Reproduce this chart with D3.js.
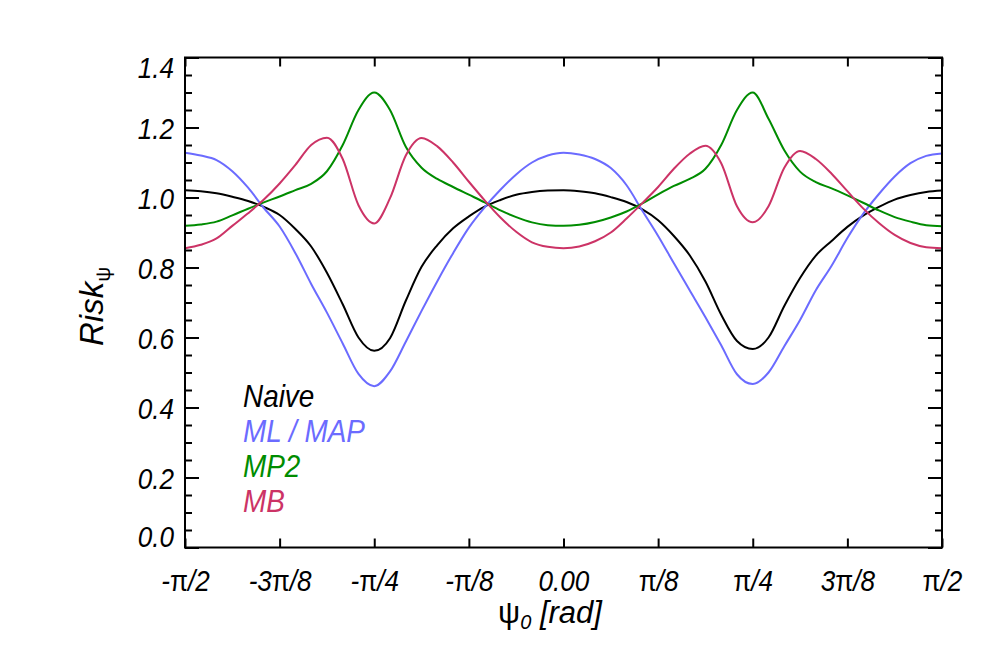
<!DOCTYPE html>
<html>
<head>
<meta charset="utf-8">
<script src="https://cdn.jsdelivr.net/npm/d3@7"></script>
<style>
  body { margin: 0; background: #fff; }
  text { font-family: "Liberation Sans", Helvetica, Arial, sans-serif; }
</style>
</head>
<body>
<div id="container"></div>
<script>
// sample grid for psi0, in steps of pi/48 from -pi/2 to pi/2
var psi0 = d3.range(49).map(function (i) { return -Math.PI / 2 + i * Math.PI / 48; });

var naive = [1.021, 1.018, 1.012, 1.002, 0.99, 0.973, 0.95, 0.91, 0.86, 0.785, 0.695, 0.6, 0.562,
  0.598, 0.705, 0.802, 0.864, 0.912, 0.946, 0.974, 0.993, 1.008, 1.016, 1.02, 1.021,
  1.018, 1.012, 1.001, 0.987, 0.966, 0.935, 0.89, 0.835, 0.76, 0.665, 0.59, 0.567,
  0.6, 0.69, 0.77, 0.834, 0.876, 0.916, 0.948, 0.973, 0.994, 1.007, 1.016, 1.02];

var mlmap = [1.128, 1.12, 1.107, 1.075, 1.028, 0.97, 0.917, 0.841, 0.753, 0.671, 0.583, 0.496, 0.461,
  0.503, 0.588, 0.676, 0.761, 0.841, 0.914, 0.972, 1.022, 1.066, 1.1, 1.12, 1.128,
  1.123, 1.11, 1.084, 1.035, 0.962, 0.89, 0.812, 0.735, 0.658, 0.578, 0.495, 0.467,
  0.5, 0.575, 0.65, 0.735, 0.805, 0.884, 0.953, 1.01, 1.06, 1.098, 1.119, 1.126];

var mp2 = [0.919, 0.923, 0.931, 0.949, 0.968, 0.986, 1.003, 1.021, 1.039, 1.075, 1.15, 1.25, 1.30,
  1.25, 1.145, 1.085, 1.053, 1.03, 1.008, 0.986, 0.963, 0.944, 0.929, 0.921, 0.919,
  0.922, 0.93, 0.943, 0.96, 0.983, 1.009, 1.033, 1.053, 1.082, 1.15, 1.25, 1.30,
  1.225, 1.135, 1.074, 1.044, 1.026, 1.006, 0.985, 0.963, 0.944, 0.931, 0.921, 0.918];

var mb = [0.855, 0.865, 0.883, 0.919, 0.955, 0.994, 1.04, 1.093, 1.15, 1.171, 1.11, 0.978, 0.926,
  0.998, 1.12, 1.17, 1.146, 1.10, 1.045, 0.992, 0.943, 0.902, 0.872, 0.859, 0.855,
  0.86, 0.875, 0.9, 0.94, 0.984, 1.03, 1.082, 1.125, 1.148, 1.098, 0.975, 0.929,
  0.975, 1.085, 1.133, 1.11, 1.068, 1.018, 0.969, 0.927, 0.893, 0.87, 0.858, 0.855];

var seriesNames = ["Naive", "ML / MAP", "MP2", "MB"];
var seriesColors = ["#000000", "#6b6bff", "#008c00", "#cc3366"];

var xTickValues = [-Math.PI / 2, -3 * Math.PI / 8, -Math.PI / 4, -Math.PI / 8, 0,
  Math.PI / 8, Math.PI / 4, 3 * Math.PI / 8, Math.PI / 2];
var xTickLabels = ["-π/2", "-3π/8", "-π/4", "-π/8", "0.00", "π/8", "π/4", "3π/8", "π/2"];
var yTickValues = [0, 0.2, 0.4, 0.6, 0.8, 1.0, 1.2, 1.4];
var yMinorValues = d3.range(0, 1.401, 0.05);

var width = 997, height = 665;
var pLeft = 185, pRight = 942, pTop = 57.5, pBottom = 547.5;
var sx = 0.9; // narrow the glyphs a bit, like the original font

var x = d3.scaleLinear().domain([-Math.PI / 2, Math.PI / 2]).range([pLeft, pRight]);
var y = d3.scaleLinear().domain([0, 1.4]).range([pBottom, pTop]);

var svg = d3.select("#container").append("svg")
    .attr("width", width)
    .attr("height", height);

var allSeries = [naive, mlmap, mp2, mb];

var line = d3.line()
    .x(function (d) { return x(d[0]); })
    .y(function (d) { return y(d[1]); })
    .curve(d3.curveMonotoneX);

svg.append("g").selectAll("path")
    .data(allSeries)
  .enter().append("path")
    .attr("fill", "none")
    .attr("stroke", function (d, i) { return seriesColors[i]; })
    .attr("stroke-width", 2)
    .attr("stroke-linejoin", "round")
    .attr("d", function (vals) {
      return line(vals.map(function (v, i) { return [psi0[i], v]; }));
    });

// axes, all ticks point inward
function styleAxis(g) {
  g.select(".domain").remove();
  g.selectAll(".tick line").attr("stroke", "#000").attr("stroke-width", 2);
}

function piLabel(sel) {
  sel.each(function (d, i) {
    var t = d3.select(this);
    var s = xTickLabels[i];
    t.text(null);
    s.split(/(π)/).forEach(function (part) {
      if (!part) return;
      t.append("tspan")
        .style("font-style", part === "π" ? "normal" : "italic")
        .text(part);
    });
  });
}

var xBottom = svg.append("g")
    .attr("transform", "translate(0," + pBottom + ")")
    .call(d3.axisBottom(x).tickValues(xTickValues).tickSize(-9).tickPadding(23)
      .tickFormat(function (d, i) { return xTickLabels[i]; }));
styleAxis(xBottom);
xBottom.selectAll(".tick text")
    .attr("fill", "#000")
    .attr("font-size", 29)
    .attr("transform", "scale(" + sx + ",1)")
    .call(piLabel);

var xTop = svg.append("g")
    .attr("transform", "translate(0," + pTop + ")")
    .call(d3.axisTop(x).tickValues(xTickValues).tickSize(-9).tickFormat(""));
styleAxis(xTop);

var yLeft = svg.append("g")
    .attr("transform", "translate(" + pLeft + ",0)")
    .call(d3.axisLeft(y).tickValues(yTickValues).tickSize(-14).tickPadding(0)
      .tickFormat(d3.format(".1f")));
styleAxis(yLeft);
yLeft.selectAll(".tick text")
    .attr("fill", "#000")
    .attr("font-size", 29)
    .attr("font-style", "italic")
    .attr("x", -11 / sx)
    .attr("dy", function (d) { return d === 0 ? -1 : (d === 1.4 ? 20 : 11); })
    .attr("transform", "scale(" + sx + ",1)");

var yLeftMinor = svg.append("g")
    .attr("transform", "translate(" + pLeft + ",0)")
    .call(d3.axisLeft(y).tickValues(yMinorValues).tickSize(-7).tickFormat(""));
styleAxis(yLeftMinor);

var yRight = svg.append("g")
    .attr("transform", "translate(" + pRight + ",0)")
    .call(d3.axisRight(y).tickValues(yTickValues).tickSize(-14).tickFormat(""));
styleAxis(yRight);

var yRightMinor = svg.append("g")
    .attr("transform", "translate(" + pRight + ",0)")
    .call(d3.axisRight(y).tickValues(yMinorValues).tickSize(-7).tickFormat(""));
styleAxis(yRightMinor);

// frame
svg.append("rect")
    .attr("x", pLeft)
    .attr("y", pTop)
    .attr("width", pRight - pLeft)
    .attr("height", pBottom - pTop)
    .attr("fill", "none")
    .attr("stroke", "#000")
    .attr("stroke-width", 2);

// axis titles
var xt = svg.append("text")
    .attr("x", 550)
    .attr("y", 623)
    .attr("text-anchor", "middle")
    .attr("font-size", 31);
xt.append("tspan").style("font-style", "normal").text("ψ");
xt.append("tspan").style("font-style", "italic").attr("font-size", 20).attr("dy", 6).text("0");
xt.append("tspan").style("font-style", "italic").attr("dy", -6).text(" [rad]");

var yt = svg.append("text")
    .attr("transform", "translate(103,346) rotate(-90)")
    .attr("text-anchor", "start")
    .attr("font-size", 33);
yt.append("tspan").style("font-style", "italic").text("Risk");
yt.append("tspan").style("font-style", "normal").attr("font-size", 21).attr("dy", 7).text("ψ");

// legend
var legend = svg.append("g");
seriesNames.forEach(function (name, i) {
  legend.append("g")
      .attr("transform", "translate(243," + (406.5 + i * 35) + ") scale(" + sx + ",1)")
    .append("text")
      .attr("font-size", 31)
      .attr("font-style", "italic")
      .attr("fill", seriesColors[i])
      .text(name);
});
</script>
</body>
</html>
